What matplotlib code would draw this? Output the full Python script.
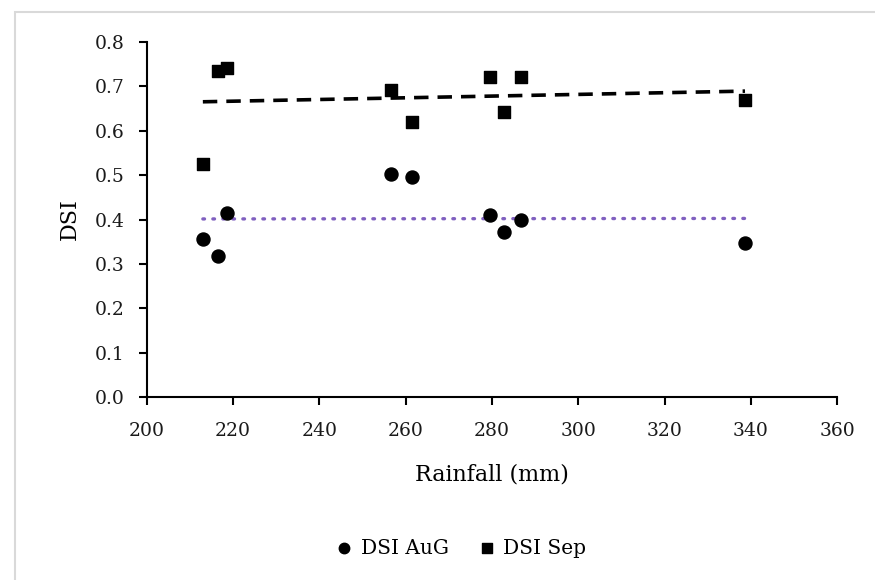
import numpy as np
import matplotlib.pyplot as plt
import matplotlib.patches as patches

# Rainfall (mm) and drought severity index values
rainfall = [213.0, 216.6, 218.7, 256.6, 261.5, 279.5, 282.8, 286.7, 338.6]
dsi_aug = [0.357, 0.318, 0.415, 0.503, 0.496, 0.410, 0.371, 0.398, 0.348]
dsi_sep = [0.525, 0.735, 0.741, 0.692, 0.620, 0.721, 0.643, 0.721, 0.670]

x_ticks = [200, 220, 240, 260, 280, 300, 320, 340, 360]
y_ticks = [0.0, 0.1, 0.2, 0.3, 0.4, 0.5, 0.6, 0.7, 0.8]

plt.rcParams['font.family'] = ['DejaVu Serif']

fig = plt.figure(figsize=(8.75, 5.8), dpi=100)
ax = fig.add_axes([0.1677, 0.315, 0.7893, 0.613])

# light grey frame round the chart area
fig.patches.append(patches.Rectangle((15 / 875, -0.1), 1.2, 1 - 12 / 580 + 0.1,
                                     transform=fig.transFigure, fill=False,
                                     edgecolor='#d9d9d9', linewidth=1.5))

ax.scatter(rainfall, dsi_aug, marker='o', s=88, color='black', zorder=3, label='DSI AuG')
ax.scatter(rainfall, dsi_sep, marker='s', s=85, color='black', zorder=3, label='DSI Sep')

# linear trend lines
xs = np.array([min(rainfall), max(rainfall)])
a_aug, b_aug = np.polyfit(rainfall, dsi_aug, 1)
a_sep, b_sep = np.polyfit(rainfall, dsi_sep, 1)
ax.plot(xs, a_sep * xs + b_sep, linestyle=(0, (4, 2.5)), color='black', linewidth=2.6, zorder=2)
ax.plot(xs, a_aug * xs + b_aug, linestyle=(0, (0.5, 2.5)), color='#8060c0', linewidth=2.4,
        dash_capstyle='round', zorder=2)

ax.set_xlim(200, 360)
ax.set_ylim(0, 0.8)
ax.set_xticks(x_ticks)
ax.set_yticks(y_ticks)
ax.set_yticklabels([f'{v:.1f}' for v in y_ticks])

for side in ['top', 'right']:
    ax.spines[side].set_visible(False)
for side in ['left', 'bottom']:
    ax.spines[side].set_linewidth(1.5)
ax.tick_params(axis='both', direction='out', length=6, width=1.5, labelsize=13.5, colors='black',
               labelcolor='#1a1a1a')
ax.tick_params(axis='x', pad=12)
ax.tick_params(axis='y', pad=10)

ax.set_xlabel('Rainfall (mm)', fontsize=16, labelpad=17)
ax.set_ylabel('DSI', fontsize=16, labelpad=10)

fig.legend(loc='center', bbox_to_anchor=(0.527, 0.055), ncol=2, frameon=False, fontsize=14.5,
           handlelength=0.8, handletextpad=0.4, columnspacing=1.5, markerscale=0.8)

fig.savefig('out.png', dpi=100, facecolor='white')
